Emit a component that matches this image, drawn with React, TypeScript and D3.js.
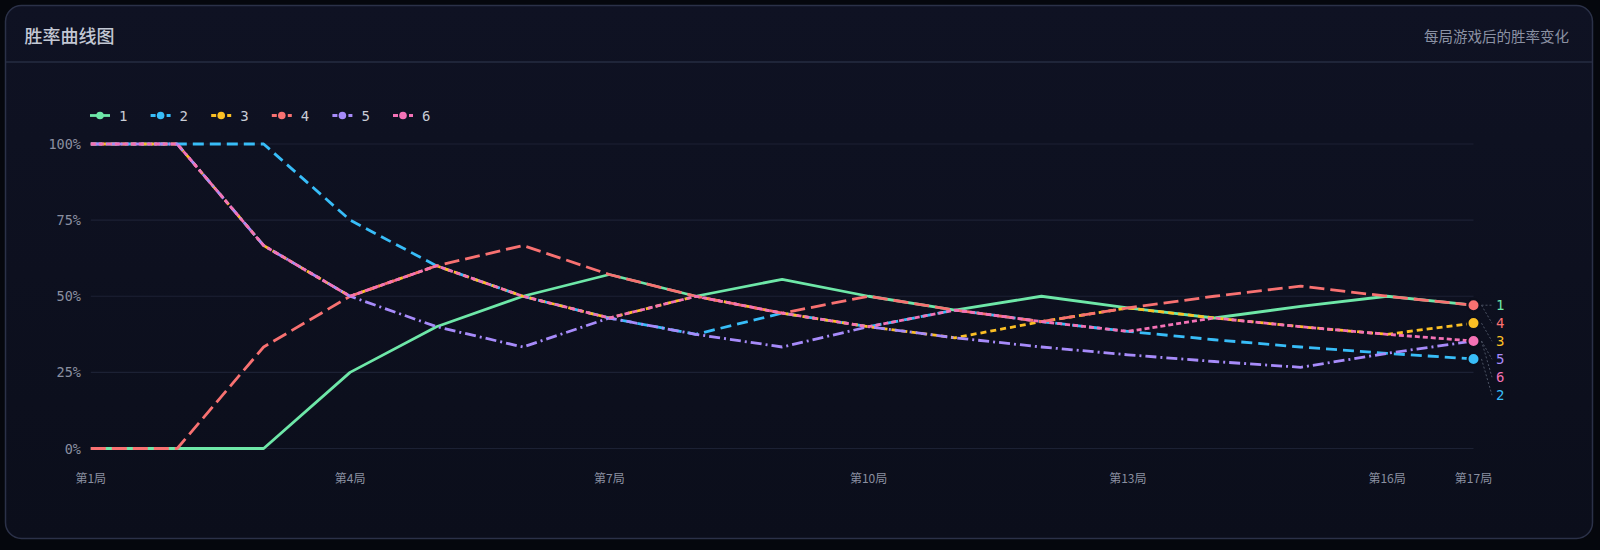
import React from "react";
import * as d3 from "d3";

// cumulative wins after each game
const games = [1, 2, 3, 4, 5, 6, 7, 8, 9, 10, 11, 12, 13, 14, 15, 16, 17];
const tickGames = [1, 4, 7, 10, 13, 16, 17];
const yTicks = [0, 0.25, 0.5, 0.75, 1];
const players = ["1", "2", "3", "4", "5", "6"];

const wins1 = [0, 0, 0, 1, 2, 3, 4, 4, 5, 5, 5, 6, 6, 6, 7, 8, 8];
const wins2 = [1, 2, 3, 3, 3, 3, 3, 3, 4, 4, 5, 5, 5, 5, 5, 5, 5];
const wins3 = [1, 2, 2, 2, 3, 3, 3, 4, 4, 4, 4, 5, 6, 6, 6, 6, 7];
const wins4 = [0, 0, 1, 2, 3, 4, 4, 4, 4, 5, 5, 5, 6, 7, 8, 8, 8];
const wins5 = [1, 2, 2, 2, 2, 2, 3, 3, 3, 4, 4, 4, 4, 4, 4, 5, 6];
const wins6 = [1, 2, 2, 2, 3, 3, 3, 4, 4, 4, 5, 5, 5, 6, 6, 6, 6];

const colors = ["#6ee7a8", "#38bdf8", "#fbbf24", "#f87171", "#a78bfa", "#f472b6"];
const dashes = ["", "11,6", "6,4", "15,6", "11,4,2,4", "5,3"];

const W = 1600;
const H = 550;
const MONO = "'DejaVu Sans Mono', monospace";
const CJK = "'Noto Sans CJK SC', 'Noto Sans', sans-serif";

const App: React.FC = () => {
  const allWins = [wins1, wins2, wins3, wins4, wins5, wins6];
  const series = players.map((name, i) => ({
    name,
    color: colors[i],
    dash: dashes[i],
    rates: games.map((g, j) => ({ g, r: allWins[i][j] / g })),
  }));

  const x = d3.scaleLinear().domain([1, 17]).range([90.8, 1473.5]);
  const y = d3.scaleLinear().domain([0, 1]).range([448.5, 144]);

  const line = d3
    .line<{ g: number; r: number }>()
    .x((d) => x(d.g))
    .y((d) => y(d.r));

  // end labels, pushed apart so they don't overlap
  const ends = series
    .map((s, i) => ({ ...s, idx: i, last: s.rates[s.rates.length - 1].r }))
    .sort((a, b) => b.last - a.last || a.idx - b.idx);
  let prev = -Infinity;
  const labels = ends.map((s) => {
    const ly = Math.max(y(s.last), prev + 18);
    prev = ly;
    return { ...s, ly };
  });

  return (
    <>
      <style>{"body{margin:0;background:#05070d;}"}</style>
      <svg width={W} height={H} style={{ display: "block" }}>
        <defs>
          <linearGradient id="cardBg" x1="0" y1="0" x2="0" y2="1">
            <stop offset="0%" stopColor="#0f1223" />
            <stop offset="100%" stopColor="#0b0e1b" />
          </linearGradient>
        </defs>
        <rect width={W} height={H} fill="#05070d" />
        <rect
          x={5.5}
          y={5.5}
          width={1587}
          height={533}
          rx={16}
          fill="url(#cardBg)"
          stroke="#2b3148"
          strokeWidth={1.5}
        />
        <line x1={6} x2={1592} y1={62} y2={62} stroke="#262c42" strokeWidth={1.5} />
        <text
          x={24.5}
          y={35}
          dominantBaseline="central"
          fontFamily={CJK}
          fontSize={18}
          fontWeight={500}
          fill="#c3c8d4"
        >
          胜率曲线图
        </text>
        <text
          x={1569}
          y={35.5}
          textAnchor="end"
          dominantBaseline="central"
          fontFamily={CJK}
          fontSize={14.5}
          fill="#8b91a3"
        >
          每局游戏后的胜率变化
        </text>

        {/* legend */}
        {series.map((s, i) => {
          const lx = 90 + i * 60.6;
          return (
            <g key={s.name} transform={`translate(${lx},115.5)`}>
              <line
                x1={0}
                x2={20}
                y1={0}
                y2={0}
                stroke={s.color}
                strokeWidth={2.8}
                strokeDasharray={s.dash ? "5,3" : undefined}
              />
              <circle cx={10} cy={0} r={3.8} fill={s.color} />
              <text
                x={29}
                y={0}
                dominantBaseline="central"
                fontFamily={MONO}
                fontSize={14}
                fill="#c9ccd6"
              >
                {s.name}
              </text>
            </g>
          );
        })}

        {/* grid + y axis */}
        {yTicks.map((t) => (
          <g key={t}>
            <line x1={x(1)} x2={x(17)} y1={y(t)} y2={y(t)} stroke="#1c2134" strokeWidth={1.2} />
            <text
              x={81}
              y={y(t)}
              textAnchor="end"
              dominantBaseline="central"
              fontFamily={MONO}
              fontSize={13.5}
              fill="#8a8fa0"
            >
              {`${Math.round(t * 100)}%`}
            </text>
          </g>
        ))}

        {/* x axis labels */}
        {tickGames.map((g) => (
          <text
            key={g}
            x={x(g)}
            y={477}
            textAnchor="middle"
            dominantBaseline="central"
            fontFamily={CJK}
            fontSize={12}
            fill="#8a8fa0"
          >
            {`第${g}局`}
          </text>
        ))}

        {/* lines */}
        {series.map((s) => (
          <path
            key={s.name}
            d={line(s.rates) || ""}
            fill="none"
            stroke={s.color}
            strokeWidth={2.8}
            strokeDasharray={s.dash || undefined}
            strokeLinejoin="round"
          />
        ))}

        {/* end dots */}
        {series.map((s) => {
          const last = s.rates[s.rates.length - 1];
          return (
            <circle
              key={s.name}
              cx={x(last.g)}
              cy={y(last.r)}
              r={6}
              fill={s.color}
              stroke="#0c0f1c"
              strokeWidth={2}
            />
          );
        })}

        {/* end labels with leader lines */}
        {labels.map((s) => (
          <g key={s.name}>
            <line
              x1={x(17) + 8}
              y1={y(s.last)}
              x2={1492}
              y2={s.ly}
              stroke="#4b5263"
              strokeWidth={1}
              strokeDasharray="2,2"
            />
            <text
              x={1496}
              y={s.ly}
              dominantBaseline="central"
              fontFamily={MONO}
              fontSize={14}
              fill={s.color}
            >
              {s.name}
            </text>
          </g>
        ))}
      </svg>
    </>
  );
};

export default App;
